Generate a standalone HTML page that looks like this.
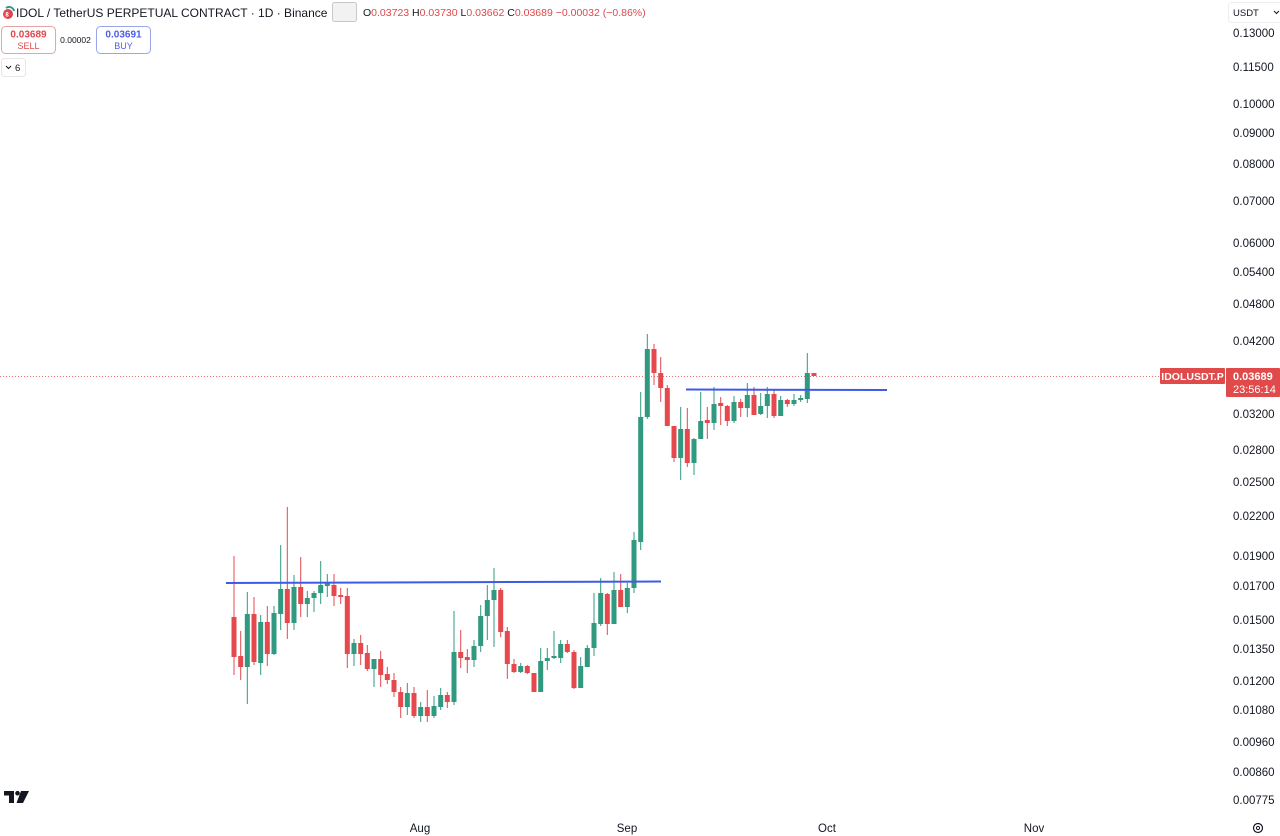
<!DOCTYPE html>
<html>
<head>
<meta charset="utf-8">
<style>
html,body{margin:0;padding:0;background:#fff;}
body{width:1280px;height:836px;overflow:hidden;position:relative;}
svg{position:absolute;left:0;top:0;}
text{font-family:"Liberation Sans",sans-serif;}
</style>
</head>
<body>
<svg width="1280" height="836" viewBox="0 0 1280 836" xmlns="http://www.w3.org/2000/svg">
<rect x="0" y="0" width="1280" height="836" fill="#ffffff"/>

<!-- header -->
<circle cx="8" cy="14" r="5" fill="#e0474c"/>
<path d="M6 8 A5 5 0 0 1 14 11" stroke="#2a9d8f" stroke-width="2" fill="none"/>
<text x="7" y="16.5" font-size="6" fill="#fff" text-anchor="middle" font-weight="bold">8</text>
<text x="16" y="17" font-size="12" fill="#131722">IDOL / TetherUS PERPETUAL CONTRACT · 1D · Binance</text>
<rect x="332.5" y="2.5" width="24" height="19" rx="2" fill="#f2f2f2" stroke="#c8c8c8"/>
<text x="363" y="16" font-size="10.5" fill="#131722">O<tspan fill="#e0474c">0.03723</tspan> H<tspan fill="#e0474c">0.03730</tspan> L<tspan fill="#e0474c">0.03662</tspan> C<tspan fill="#e0474c">0.03689 −0.00032 (−0.86%)</tspan></text>

<rect x="1.5" y="26.5" width="54" height="27" rx="4" fill="#fff" stroke="#e8a3a5"/>
<text x="28.5" y="37.5" font-size="10" fill="#e0474c" text-anchor="middle" font-weight="bold">0.03689</text>
<text x="28.5" y="49" font-size="9" fill="#e0474c" text-anchor="middle">SELL</text>
<text x="75.5" y="43" font-size="8.5" fill="#131722" text-anchor="middle">0.00002</text>
<rect x="96.5" y="26.5" width="54" height="27" rx="4" fill="#fff" stroke="#9aa5ee"/>
<text x="123.5" y="37.5" font-size="10" fill="#4a5ee8" text-anchor="middle" font-weight="bold">0.03691</text>
<text x="123.5" y="49" font-size="9" fill="#4a5ee8" text-anchor="middle">BUY</text>
<rect x="1.5" y="58.5" width="24" height="18" rx="3" fill="#fff" stroke="#e6e6e6"/>
<path d="M6 66 L8.5 68.5 L11 66" stroke="#131722" stroke-width="1" fill="none"/>
<text x="15" y="71" font-size="9.5" fill="#131722">6</text>

<!-- USDT dropdown -->
<rect x="1228.5" y="2.5" width="55" height="20" rx="3" fill="#fff" stroke="#eeeeee"/>
<text x="1233" y="16" font-size="9.5" fill="#131722">USDT</text>
<path d="M1274 11 L1276.5 13.5 L1279 11" stroke="#131722" stroke-width="1" fill="none"/>

<!-- price axis labels -->
<g font-size="11.5" fill="#131722">
<text x="1233" y="37">0.13000</text>
<text x="1233" y="71">0.11500</text>
<text x="1233" y="108">0.10000</text>
<text x="1233" y="137">0.09000</text>
<text x="1233" y="168">0.08000</text>
<text x="1233" y="205">0.07000</text>
<text x="1233" y="247">0.06000</text>
<text x="1233" y="276">0.05400</text>
<text x="1233" y="308">0.04800</text>
<text x="1233" y="345">0.04200</text>
<text x="1233" y="418">0.03200</text>
<text x="1233" y="454">0.02800</text>
<text x="1233" y="486">0.02500</text>
<text x="1233" y="520">0.02200</text>
<text x="1233" y="560">0.01900</text>
<text x="1233" y="590">0.01700</text>
<text x="1233" y="624">0.01500</text>
<text x="1233" y="653">0.01350</text>
<text x="1233" y="685">0.01200</text>
<text x="1233" y="714">0.01080</text>
<text x="1233" y="746">0.00960</text>
<text x="1233" y="776">0.00860</text>
<text x="1233" y="804">0.00775</text>
</g>

<!-- time axis -->
<g font-size="11.5" fill="#131722" text-anchor="middle">
<text x="420" y="832">Aug</text>
<text x="627" y="832">Sep</text>
<text x="827" y="832">Oct</text>
<text x="1034" y="832">Nov</text>
</g>
<circle cx="1258" cy="828" r="4.5" fill="none" stroke="#131722" stroke-width="1.2"/>
<circle cx="1258" cy="828" r="1.6" fill="none" stroke="#131722" stroke-width="1"/>

<!-- TV logo -->
<g fill="#131722">
<rect x="4" y="791" width="10" height="4.5"/>
<rect x="9" y="791" width="5" height="12"/>
<circle cx="17.5" cy="793.2" r="2.3"/>
<polygon points="21,791 29,791 23,803 16.5,803"/>
</g>

<!-- current price dotted line -->
<line x1="0" y1="376.5" x2="1160" y2="376.5" stroke="#e57373" stroke-width="1" stroke-dasharray="1,2"/>

<!-- candles -->
<g id="candles">
<!-- red -->
<g fill="#e5484d">
<rect x="233.5" y="556" width="1" height="119"/><rect x="231.5" y="617" width="5" height="40"/>
<rect x="240.2" y="631" width="1" height="49"/><rect x="238.2" y="656" width="5" height="11"/>
<rect x="253.5" y="597" width="1" height="68"/><rect x="251.5" y="614" width="5" height="48"/>
<rect x="266.8" y="606" width="1" height="60"/><rect x="264.8" y="622" width="5" height="32"/>
<rect x="286.8" y="507" width="1" height="132"/><rect x="284.8" y="589" width="5" height="34"/>
<rect x="300.2" y="557" width="1" height="60"/><rect x="298.2" y="587" width="5" height="17"/>
<rect x="333.5" y="574" width="1" height="32"/><rect x="331.5" y="585" width="5" height="11"/>
<rect x="340.2" y="588" width="1" height="16"/><rect x="338.2" y="595" width="5" height="2"/>
<rect x="346.8" y="588" width="1" height="80"/><rect x="344.8" y="596" width="5" height="58"/>
<rect x="360.2" y="635" width="1" height="30"/><rect x="358.2" y="643" width="5" height="11"/>
<rect x="366.8" y="645" width="1" height="26"/><rect x="364.8" y="653" width="5" height="16"/>
<rect x="380.2" y="651" width="1" height="36"/><rect x="378.2" y="659" width="5" height="16"/>
<rect x="386.8" y="667" width="1" height="17"/><rect x="384.8" y="674" width="5" height="6"/>
<rect x="393.5" y="673" width="1" height="24"/><rect x="391.5" y="680" width="5" height="12"/>
<rect x="400.2" y="687" width="1" height="31"/><rect x="398.2" y="692" width="5" height="15"/>
<rect x="413.5" y="687" width="1" height="31"/><rect x="411.5" y="693" width="5" height="23"/>
<rect x="426.8" y="690" width="1" height="32"/><rect x="424.8" y="707" width="5" height="9"/>
<rect x="446.8" y="692" width="1" height="16"/><rect x="444.8" y="695" width="5" height="7"/>
<rect x="460.2" y="630" width="1" height="38"/><rect x="458.2" y="652" width="5" height="6"/>
<rect x="466.8" y="649" width="1" height="24"/><rect x="464.8" y="657" width="5" height="3"/>
<rect x="500.2" y="588" width="1" height="49"/><rect x="498.2" y="590" width="5" height="42"/>
<rect x="506.8" y="627" width="1" height="52"/><rect x="504.8" y="631" width="5" height="33"/>
<rect x="513.5" y="659" width="1" height="14"/><rect x="511.5" y="664" width="5" height="8"/>
<rect x="526.8" y="665" width="1" height="9"/><rect x="524.8" y="666" width="5" height="7"/>
<rect x="533.5" y="673" width="1" height="19"/><rect x="531.5" y="673" width="5" height="19"/>
<rect x="566.8" y="640" width="1" height="13"/><rect x="564.8" y="644" width="5" height="8"/>
<rect x="573.5" y="650" width="1" height="39"/><rect x="571.5" y="652" width="5" height="36"/>
<rect x="606.8" y="593" width="1" height="42"/><rect x="604.8" y="594" width="5" height="30"/>
<rect x="620.2" y="574" width="1" height="33"/><rect x="618.2" y="590" width="5" height="17"/>
<rect x="653.5" y="344" width="1" height="41"/><rect x="651.5" y="349" width="5" height="24"/>
<rect x="660.2" y="357" width="1" height="45"/><rect x="658.2" y="373" width="5" height="15"/>
<rect x="666.8" y="385" width="1" height="41"/><rect x="664.8" y="388" width="5" height="38"/>
<rect x="673.5" y="426" width="1" height="36"/><rect x="671.5" y="426" width="5" height="32"/>
<rect x="686.8" y="408" width="1" height="59"/><rect x="684.8" y="429" width="5" height="34"/>
<rect x="706.8" y="407" width="1" height="32"/><rect x="704.8" y="420" width="5" height="3"/>
<rect x="720.2" y="397" width="1" height="28"/><rect x="718.2" y="403" width="5" height="3"/>
<rect x="726.8" y="405" width="1" height="21"/><rect x="724.8" y="406" width="5" height="15"/>
<rect x="740.2" y="399" width="1" height="18"/><rect x="738.2" y="402" width="5" height="6"/>
<rect x="753.5" y="387" width="1" height="28"/><rect x="751.5" y="395" width="5" height="20"/>
<rect x="773.5" y="390" width="1" height="28"/><rect x="771.5" y="394" width="5" height="22"/>
<rect x="786.8" y="399" width="1" height="8"/><rect x="784.8" y="400" width="5" height="4"/>
<rect x="811.5" y="373" width="5" height="3"/>
</g>
<!-- green -->
<g fill="#30997f">
<rect x="246.8" y="592" width="1" height="112"/><rect x="244.8" y="614" width="5" height="53"/>
<rect x="260.2" y="615" width="1" height="60"/><rect x="258.2" y="622" width="5" height="41"/>
<rect x="273.5" y="606" width="1" height="49"/><rect x="271.5" y="613" width="5" height="41"/>
<rect x="280.2" y="545" width="1" height="85"/><rect x="278.2" y="589" width="5" height="25"/>
<rect x="293.5" y="575" width="1" height="55"/><rect x="291.5" y="587" width="5" height="36"/>
<rect x="306.8" y="591" width="1" height="26"/><rect x="304.8" y="598" width="5" height="6"/>
<rect x="313.5" y="591" width="1" height="21"/><rect x="311.5" y="593" width="5" height="5"/>
<rect x="320.2" y="561" width="1" height="43"/><rect x="318.2" y="585" width="5" height="8"/>
<rect x="326.8" y="574" width="1" height="23"/><rect x="324.8" y="583" width="5" height="3"/>
<rect x="353.5" y="639" width="1" height="27"/><rect x="351.5" y="643" width="5" height="11"/>
<rect x="373.5" y="659" width="1" height="28"/><rect x="371.5" y="659" width="5" height="10"/>
<rect x="406.8" y="683" width="1" height="32"/><rect x="404.8" y="693" width="5" height="14"/>
<rect x="420.2" y="702" width="1" height="20"/><rect x="418.2" y="707" width="5" height="9"/>
<rect x="433.5" y="696" width="1" height="22"/><rect x="431.5" y="706" width="5" height="10"/>
<rect x="440.2" y="688" width="1" height="22"/><rect x="438.2" y="695" width="5" height="12"/>
<rect x="453.5" y="611" width="1" height="94"/><rect x="451.5" y="652" width="5" height="50"/>
<rect x="473.5" y="640" width="1" height="27"/><rect x="471.5" y="646" width="5" height="14"/>
<rect x="480.2" y="605" width="1" height="47"/><rect x="478.2" y="616" width="5" height="30"/>
<rect x="486.8" y="585" width="1" height="55"/><rect x="484.8" y="600" width="5" height="16"/>
<rect x="493.5" y="568" width="1" height="79"/><rect x="491.5" y="590" width="5" height="10"/>
<rect x="520.2" y="663" width="1" height="10"/><rect x="518.2" y="666" width="5" height="6"/>
<rect x="540.2" y="648" width="1" height="44"/><rect x="538.2" y="661" width="5" height="31"/>
<rect x="546.8" y="648" width="1" height="22"/><rect x="544.8" y="658" width="5" height="3"/>
<rect x="553.5" y="631" width="1" height="28"/><rect x="551.5" y="656" width="5" height="2"/>
<rect x="560.2" y="640" width="1" height="23"/><rect x="558.2" y="644" width="5" height="14"/>
<rect x="580.2" y="657" width="1" height="31"/><rect x="578.2" y="666" width="5" height="22"/>
<rect x="586.8" y="645" width="1" height="22"/><rect x="584.8" y="648" width="5" height="19"/>
<rect x="593.5" y="593" width="1" height="63"/><rect x="591.5" y="623" width="5" height="25"/>
<rect x="600.2" y="578" width="1" height="48"/><rect x="598.2" y="593" width="5" height="31"/>
<rect x="613.5" y="572" width="1" height="52"/><rect x="611.5" y="590" width="5" height="34"/>
<rect x="626.8" y="583" width="1" height="30"/><rect x="624.8" y="588" width="5" height="19"/>
<rect x="633.5" y="532" width="1" height="61"/><rect x="631.5" y="540" width="5" height="48"/>
<rect x="640.2" y="392" width="1" height="158"/><rect x="638.2" y="417" width="5" height="125"/>
<rect x="646.8" y="334" width="1" height="85"/><rect x="644.8" y="349" width="5" height="68"/>
<rect x="680.2" y="407" width="1" height="73"/><rect x="678.2" y="429" width="5" height="29"/>
<rect x="693.5" y="438" width="1" height="37"/><rect x="691.5" y="439" width="5" height="24"/>
<rect x="700.2" y="392" width="1" height="47"/><rect x="698.2" y="421" width="5" height="18"/>
<rect x="713.5" y="387" width="1" height="43"/><rect x="711.5" y="404" width="5" height="19"/>
<rect x="733.5" y="396" width="1" height="27"/><rect x="731.5" y="402" width="5" height="19"/>
<rect x="746.8" y="383" width="1" height="34"/><rect x="744.8" y="395" width="5" height="13"/>
<rect x="760.2" y="393" width="1" height="22"/><rect x="758.2" y="406" width="5" height="8"/>
<rect x="766.8" y="387" width="1" height="31"/><rect x="764.8" y="394" width="5" height="12"/>
<rect x="780.2" y="396" width="1" height="20"/><rect x="778.2" y="400" width="5" height="16"/>
<rect x="793.5" y="394" width="1" height="12"/><rect x="791.5" y="400" width="5" height="4"/>
<rect x="800.2" y="395" width="1" height="7"/><rect x="798.2" y="398" width="5" height="2"/>
<rect x="806.8" y="353" width="1" height="50"/><rect x="804.8" y="373" width="5" height="26"/>
</g>
</g>

<!-- trend lines -->
<line x1="226" y1="583" x2="661" y2="581.5" stroke="#3d5ae8" stroke-width="2"/>
<line x1="686" y1="389.5" x2="887" y2="390" stroke="#3d5ae8" stroke-width="2"/>

<!-- price labels -->
<rect x="1160" y="368" width="65" height="16" rx="1" fill="#e04a4a"/>
<text x="1192.5" y="380" font-size="10.5" font-weight="bold" fill="#fff" text-anchor="middle">IDOLUSDT.P</text>
<rect x="1226" y="368" width="54" height="29" rx="1" fill="#e04a4a"/>
<text x="1233" y="380" font-size="11" font-weight="bold" fill="#fff">0.03689</text>
<text x="1233" y="393" font-size="11" fill="#fff">23:56:14</text>
</svg>
</body>
</html>
